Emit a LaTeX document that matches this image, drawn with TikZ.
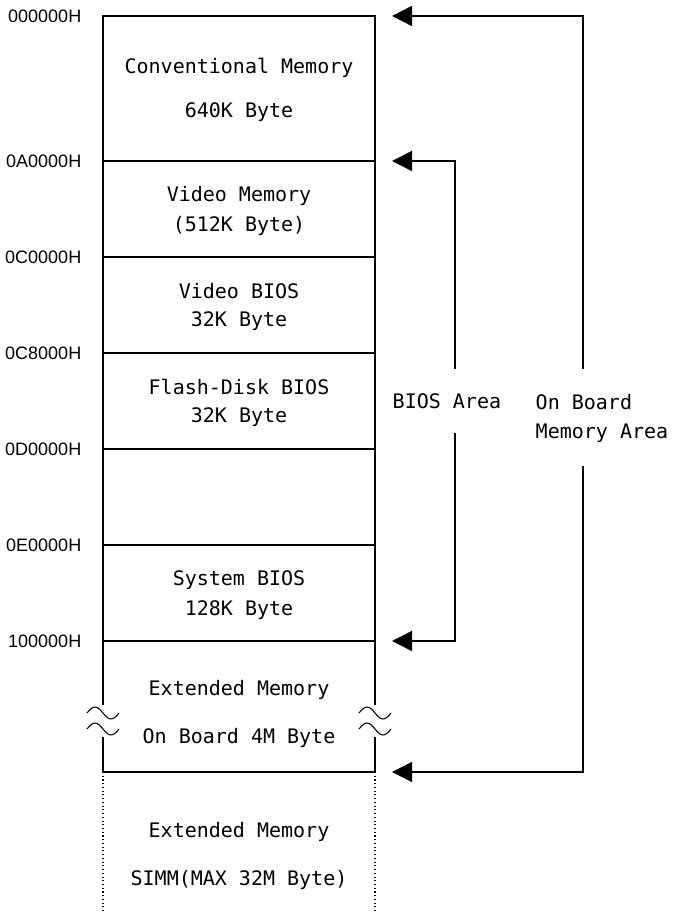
\documentclass[tikz,border=0pt]{standalone}
\usepackage{fontspec}
\setmainfont{Liberation Sans}
\newfontfamily\memfont{DejaVu Sans Mono}
\usetikzlibrary{arrows.meta}

\begin{document}
\begin{tikzpicture}[x = 0.75pt, y = -0.75pt, line width = 1.1pt,
    addr/.style = {anchor = east, inner sep = 0pt, font = \fontsize{13.5}{16}\selectfont},
    memtext/.style = {inner sep = 0pt, font = \memfont\fontsize{15}{18}\selectfont},
    tip/.style = {-{Triangle[length = 15pt, width = 15pt]}}]

    \useasboundingbox (0, 0) rectangle (672, 912);

% Memory box
    \draw (103, 705) -- (103, 16) -- (375, 16) -- (375, 705);
    \draw (103, 737) -- (103, 772) -- (375, 772) -- (375, 737);
    \foreach \y in {161, 257, 353, 449, 545, 641}
        \draw (103, \y) -- (375, \y);
    \draw [dotted, line width = 0.8pt] (103, 772) -- (103, 912);
    \draw [dotted, line width = 0.8pt] (375, 772) -- (375, 912);

% Breaks
    \foreach \x in {103, 375}
        \foreach \y in {713, 729}
            \draw [line width = 0.8pt] (\x - 16, \y) sin (\x - 8, \y - 6) cos (\x, \y) sin (\x + 8, \y + 6) cos (\x + 16, \y);

% Addresses
    \node[addr] (a0) at (82, 16) {000000H};
    \node[addr] (a1) at (82, 161) {0A0000H};
    \node[addr] (a2) at (82, 257) {0C0000H};
    \node[addr] (a3) at (82, 353) {0C8000H};
    \node[addr] (a4) at (82, 449) {0D0000H};
    \node[addr] (a5) at (82, 545) {0E0000H};
    \node[addr] (a6) at (82, 641) {100000H};

% Regions
    \node[memtext] (conv) at (239, 68) {Conventional Memory};
    \node[memtext] (convsz) at (239, 112) {640K Byte};
    \node[memtext] (vmem) at (239, 196) {Video Memory};
    \node[memtext] (vmemsz) at (239, 226) {(512K Byte)};
    \node[memtext] (vbios) at (239, 291) {Video BIOS};
    \node[memtext] (vbiossz) at (239, 321) {32K Byte};
    \node[memtext] (fbios) at (239, 387) {Flash-Disk BIOS};
    \node[memtext] (fbiossz) at (239, 417) {32K Byte};
    \node[memtext] (sbios) at (239, 580) {System BIOS};
    \node[memtext] (sbiossz) at (239, 610) {128K Byte};
    \node[memtext] (ext) at (239, 690) {Extended Memory};
    \node[memtext] (extsz) at (239, 738) {On Board 4M Byte};
    \node[memtext] (simm) at (239, 832) {Extended Memory};
    \node[memtext] (simmsz) at (239, 880) {SIMM(MAX 32M Byte)};

% Areas
    \node[memtext, anchor = west] (bios) at (392, 401) {BIOS Area};
    \node[memtext, anchor = west] (onb) at (535, 402) {On Board};
    \node[memtext, anchor = west] (onbmem) at (535, 433) {Memory Area};

% Ends
    \coordinate (t0) at (392, 16);
    \coordinate (t1) at (392, 161);
    \coordinate (t6) at (392, 641);
    \coordinate (t7) at (392, 772);
    \coordinate (biosA) at (455, 369);
    \coordinate (biosB) at (455, 433);
    \coordinate (onbA) at (583, 369);
    \coordinate (onbB) at (583, 466);

% Directions
    \draw [tip] (biosA) |- (t1);
    \draw [tip] (biosB) |- (t6);
    \draw [tip] (onbA) |- (t0);
    \draw [tip] (onbB) |- (t7);

\end{tikzpicture}
\end{document}
